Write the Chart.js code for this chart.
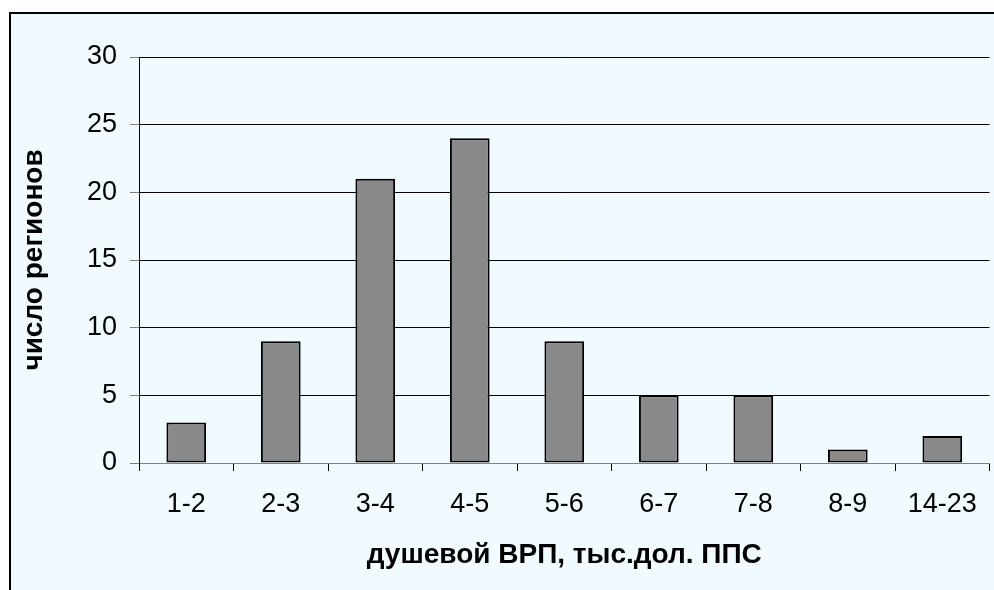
<!DOCTYPE html>
<html>
<head>
  <meta charset="UTF-8">
  <title>Распределение регионов по душевому ВРП</title>
  <script src="https://cdn.jsdelivr.net/npm/chart.js"></script>
  <style>
    html, body {
      margin: 0;
      padding: 0;
      background: #ffffff;
      overflow: hidden;
    }
    #ramka {
      position: absolute;
      left: 9px;
      top: 12px;
      width: 1000px;
      height: 600px;
      border-left: 2px solid #000;
      border-top: 2px solid #000;
      background: #f0faff;
    }
    #wrap {
      position: absolute;
      left: 0;
      top: 0;
      width: 994px;
      height: 590px;
    }
  </style>
</head>
<body>
  <div id="ramka"></div>
  <div id="wrap">
    <canvas id="graf" width="994" height="590"></canvas>
  </div>

  <script>
    // intervaly dushevogo VRP (tys. dol. PPS) a pocet regionov
    const kategorie = ['1-2', '2-3', '3-4', '4-5', '5-6', '6-7', '7-8', '8-9', '14-23'];
    const pocetRegionov = [3, 9, 21, 24, 9, 5, 5, 1, 2];
    const yTicky = [0, 5, 10, 15, 20, 25, 30];

    const pismo = 'Liberation Sans, Arial, sans-serif';

    const ctx = document.getElementById('graf').getContext('2d');
    const graf = new Chart(ctx, {
      type: 'bar',
      data: {
        labels: kategorie,
        datasets: [{
          data: pocetRegionov,
          backgroundColor: '#898989',
          borderColor: '#000000',
          borderWidth: 2,
          borderSkipped: false,
          categoryPercentage: 1,
          barPercentage: 0.42
        }]
      },
      options: {
        responsive: false,
        animation: false,
        layout: {
          padding: { top: 57, right: 3, left: 0, bottom: 0 }
        },
        plugins: {
          legend: { display: false },
          tooltip: { enabled: false }
        },
        scales: {
          x: {
            grid: {
              offset: true,
              drawOnChartArea: false,
              tickLength: 8,
              tickColor: '#000000'
            },
            border: { color: '#808080', width: 1 },
            ticks: {
              color: '#000',
              font: { family: pismo, size: 27 },
              padding: 17
            },
            title: {
              display: true,
              text: 'душевой ВРП, тыс.дол. ППС',
              color: '#000',
              font: { family: pismo, size: 28, weight: 'bold' },
              padding: { top: 18, bottom: 18 }
            },
            afterFit: (s) => { s.height = 127; }
          },
          y: {
            min: 0,
            max: 30,
            afterBuildTicks: (s) => { s.ticks = yTicky.map(v => ({ value: v })); },
            grid: {
              color: '#000000',
              lineWidth: 1,
              tickLength: 9,
              tickColor: '#808080'
            },
            border: { color: '#000000', width: 1 },
            ticks: {
              color: '#000',
              font: { family: pismo, size: 27 },
              padding: 13
            },
            title: {
              display: true,
              text: 'число регионов',
              color: '#000',
              font: { family: pismo, size: 28, weight: 'bold' },
              padding: { top: 17, bottom: 4 }
            },
            afterFit: (s) => { s.width = 139; }
          }
        }
      }
    });
  </script>
</body>
</html>
